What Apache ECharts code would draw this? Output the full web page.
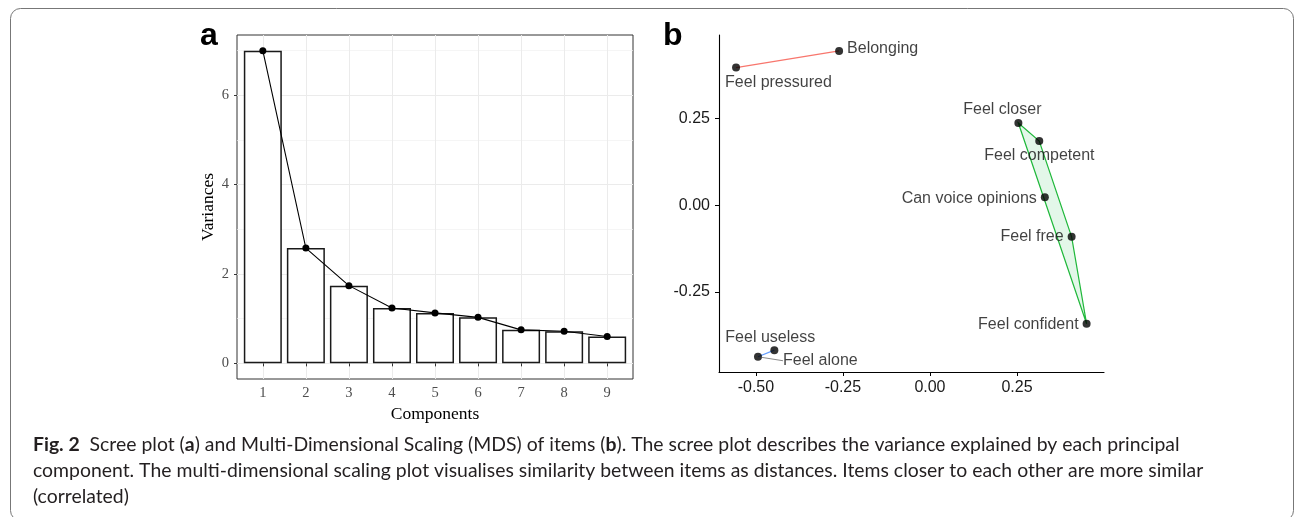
<!DOCTYPE html>
<html>
<head>
<meta charset="utf-8">
<title>Scree plot and MDS of items</title>
<script src="https://cdn.jsdelivr.net/npm/echarts@6/dist/echarts.min.js"></script>
<style>
  html, body { margin: 0; padding: 0; background: #fff; }
  #chart { width: 1295px; height: 517px; }
</style>
</head>
<body>
<div id="chart"></div>
<script>
// panel a - scree plot
var components = [1, 2, 3, 4, 5, 6, 7, 8, 9];
var variances = [7.00, 2.58, 1.74, 1.24, 1.13, 1.03, 0.75, 0.72, 0.60];
var screeYTicks = [0, 2, 4, 6];
var screeYMinor = [1, 3, 5, 7];

// panel b - multi-dimensional scaling of items
var items = ['Feel pressured', 'Belonging', 'Feel closer', 'Feel competent', 'Can voice opinions',
             'Feel free', 'Feel confident', 'Feel useless', 'Feel alone'];
var dim1 = [-0.557, -0.261, 0.254, 0.314, 0.330, 0.407, 0.450, -0.447, -0.494];
var dim2 = [0.397, 0.445, 0.237, 0.185, 0.023, -0.091, -0.342, -0.418, -0.437];
var mdsXTicks = [-0.50, -0.25, 0.00, 0.25];
var mdsYTicks = [-0.25, 0.00, 0.25];
// groups (index into items)
var groupRed = [0, 1];
var groupBlue = [7, 8];
var greenHull = [2, 3, 5, 6];

// where each label sits next to its point: align, dx, dy
var labelPlace = [
  ['left', -11, 15], ['left', 8, -2], ['center', -16, -13], ['left', -55, 15], ['right', -8, 1],
  ['right', -8, 0], ['right', -8, 1], ['left', -49, -13], ['left', 25, 4]
];

var myChart = echarts.init(document.getElementById('chart'), null, { renderer: 'canvas' });

var serif = 'Liberation Serif';
var sans = 'Liberation Sans';

function pts(idx) {
  return idx.map(function (i) { return [dim1[i], dim2[i]]; });
}

var mdsData = items.map(function (name, i) {
  var item = {
    name: name,
    value: [dim1[i], dim2[i]],
    label: { align: labelPlace[i][0] }
  };
  if (name === 'Feel alone') {
    item.labelLine = { show: true, lineStyle: { color: '#555', width: 0.7 } };
  }
  return item;
});

var option = {
  animation: false,
  backgroundColor: '#fff',
  grid: [
    { left: 237, top: 35, width: 396, height: 344, show: true, borderColor: '#333', borderWidth: 1,
      backgroundColor: 'transparent', outerBoundsMode: 'none' },
    { left: 719, top: 35, width: 385, height: 337, outerBoundsMode: 'none' }
  ],
  xAxis: [
    {
      gridIndex: 0, type: 'value', min: 0.4, max: 9.6,
      name: 'Components', nameLocation: 'middle', nameGap: 23,
      nameTextStyle: { fontFamily: serif, fontSize: 17.5, color: '#000' },
      axisLine: { show: false },
      axisTick: { show: true, length: 3, customValues: components, lineStyle: { color: '#333' } },
      axisLabel: { customValues: components, margin: 7, fontFamily: serif, fontSize: 14.5, color: '#4d4d4d' },
      splitLine: { show: true, lineStyle: { color: '#ebebeb', width: 1 } }
    },
    {
      gridIndex: 1, type: 'value', min: -0.606, max: 0.5,
      axisLine: { show: true, onZero: false, lineStyle: { color: '#000', width: 1.1 } },
      axisTick: { show: true, length: 4, customValues: mdsXTicks, lineStyle: { color: '#000' } },
      axisLabel: { customValues: mdsXTicks, margin: 8, fontFamily: sans, fontSize: 16, color: '#1a1a1a',
        formatter: function (v) { return v.toFixed(2); } },
      splitLine: { show: false }
    }
  ],
  yAxis: [
    {
      gridIndex: 0, type: 'value', min: -0.35, max: 7.35,
      name: 'Variances', nameLocation: 'middle', nameGap: 20,
      nameTextStyle: { fontFamily: serif, fontSize: 17.5, color: '#000' },
      axisLine: { show: false },
      axisTick: { show: true, length: 3, customValues: screeYTicks, lineStyle: { color: '#333' } },
      axisLabel: { customValues: screeYTicks, margin: 8, fontFamily: serif, fontSize: 14.5, color: '#4d4d4d' },
      splitLine: { show: true, lineStyle: { color: '#ebebeb', width: 1 } }
    },
    {
      // minor grid lines only
      gridIndex: 0, type: 'value', min: -0.35, max: 7.35, position: 'left',
      axisLine: { show: false },
      axisTick: { show: false, customValues: screeYMinor },
      axisLabel: { show: false, customValues: screeYMinor },
      splitLine: { show: true, lineStyle: { color: '#f0f0f0', width: 0.7 } }
    },
    {
      gridIndex: 1, type: 'value', min: -0.481, max: 0.491,
      axisLine: { show: true, onZero: false, lineStyle: { color: '#000', width: 1.1 } },
      axisTick: { show: true, length: 4, customValues: mdsYTicks, lineStyle: { color: '#000' } },
      axisLabel: { customValues: mdsYTicks, margin: 9, fontFamily: sans, fontSize: 16, color: '#1a1a1a',
        formatter: function (v) { return v.toFixed(2); } },
      splitLine: { show: false }
    }
  ],
  series: [
    {
      type: 'bar', xAxisIndex: 0, yAxisIndex: 0,
      data: components.map(function (c, i) { return [c, variances[i]]; }),
      barWidth: 38,
      itemStyle: { color: '#fff', borderColor: '#1a1a1a', borderWidth: 1.5 },
      emphasis: { disabled: true }
    },
    {
      type: 'line', xAxisIndex: 0, yAxisIndex: 0,
      data: components.map(function (c, i) { return [c, variances[i]]; }),
      symbol: 'circle', symbolSize: 7,
      itemStyle: { color: '#000' },
      lineStyle: { color: '#000', width: 1.1 },
      emphasis: { disabled: true }
    },
    {
      type: 'custom', xAxisIndex: 1, yAxisIndex: 2,
      data: pts(greenHull),
      renderItem: function (params, api) {
        if (params.dataIndex !== 0) return null;
        var poly = greenHull.map(function (i) { return api.coord([dim1[i], dim2[i]]); });
        return {
          type: 'polygon',
          shape: { points: poly },
          style: { fill: 'rgba(0,186,56,0.11)', stroke: '#1fb83a', lineWidth: 1.2 }
        };
      },
      silent: true, z: 1
    },
    {
      type: 'line', xAxisIndex: 1, yAxisIndex: 2,
      data: pts(groupRed), showSymbol: false,
      lineStyle: { color: '#f8766d', width: 1.2 }, silent: true, z: 1
    },
    {
      type: 'line', xAxisIndex: 1, yAxisIndex: 2,
      data: pts(groupBlue), showSymbol: false,
      lineStyle: { color: '#619cff', width: 1.2 }, silent: true, z: 1
    },
    {
      type: 'scatter', xAxisIndex: 1, yAxisIndex: 2,
      data: mdsData,
      symbolSize: 8,
      itemStyle: { color: '#000' },
      label: {
        show: true, position: 'inside', formatter: '{b}',
        fontFamily: sans, fontSize: 16, color: '#111', verticalAlign: 'middle'
      },
      labelLayout: function (p) {
        var pl = labelPlace[p.dataIndex];
        return { dx: pl[1], dy: pl[2] };
      },
      emphasis: { disabled: true },
      z: 3
    }
  ],
  graphic: [
    {
      type: 'rect', silent: true,
      shape: { x: 10.5, y: 8.5, width: 1283, height: 512, r: 10 },
      style: { fill: 'none', stroke: '#777', lineWidth: 1 }
    },
    {
      type: 'text', left: 200, top: 20,
      style: { text: 'a', font: 'bold 32px "Liberation Sans"', fill: '#000' }
    },
    {
      type: 'text', left: 663, top: 20,
      style: { text: 'b', font: 'bold 32px "Liberation Sans"', fill: '#000' }
    },
    {
      type: 'text', left: 33, top: 432,
      style: {
        text: '{b|Fig. 2}  Scree plot ({b|a}) and Multi-Dimensional Scaling (MDS) of items ({b|b}). The scree plot describes the variance explained by each principal\n' +
              'component. The multi-dimensional scaling plot visualises similarity between items as distances. Items closer to each other are more similar\n' +
              '(correlated)',
        fontFamily: 'Lato', fontSize: 19.4, lineHeight: 26, fill: '#231f20',
        rich: {
          b: { fontFamily: 'Lato', fontSize: 19.4, fontWeight: 'bold', lineHeight: 26, fill: '#231f20' }
        }
      }
    }
  ]
};

myChart.setOption(option);
</script>
</body>
</html>
